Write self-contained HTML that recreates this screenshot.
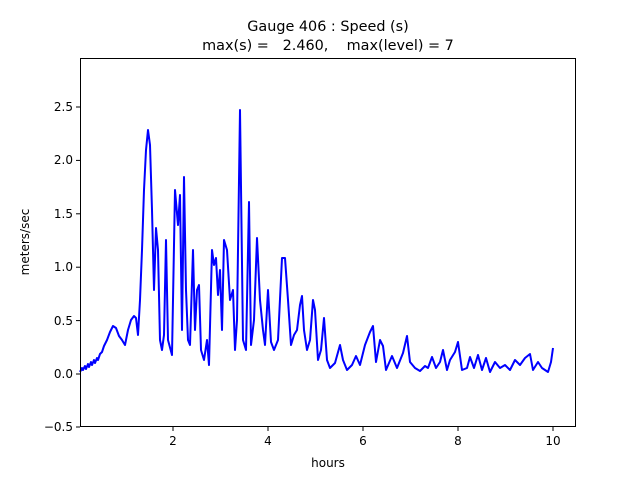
<!DOCTYPE html>
<html><head><meta charset="utf-8"><style>
body{margin:0;background:#fff}
svg text{font-family:"DejaVu Sans","Liberation Sans",sans-serif;font-size:12px;fill:#000}
</style></head><body>
<svg width="640" height="480" viewBox="0 0 640 480" xmlns="http://www.w3.org/2000/svg">
<rect width="640" height="480" fill="#fff"/>
<text x="328" y="31" text-anchor="middle" style="font-size:14.4px">Gauge 406 : Speed (s)</text>
<text x="328" y="50" text-anchor="middle" style="font-size:14.4px" xml:space="preserve">max(s) =   2.460,    max(level) = 7</text>
<polyline fill="none" stroke="#0000ff" stroke-width="2" stroke-linejoin="round" points="
80,372 82,368 83,370 85,366 86,369 88,364 89,367 91,362 92,365 94,360 95,363 97,358 98,360 100,354 102,352 104,346 107,340 110,332 113,326 116,328 119,336 122,340 125,345 128,330 131,320 134,316 136,318 138,335 140,300 142,250 144,190 146,150 148,130 150,145 152,210 154,290 156,228 158,250 160,340 162,350 164,335 166,240 168,340 172,355 175,190 178,225 180,195 182,330 184,177 186,290 188,340 190,345 193,250 195,330 197,290 199,285 201,350 204,360 207,340 209,365 212,250 214,265 216,258 218,295 220,270 222,330 224,240 227,250 230,300 233,290 235,350 237,320 240,110 243,340 246,350 249,202 251,345 254,320 257,238 260,300 263,330 265,345 268,290 271,342 274,350 278,340 282,258 285,258 288,300 291,345 294,335 297,330 300,305 302,296 304,330 307,350 310,340 313,300 315,310 318,360 321,350 324,318 327,360 330,368 335,363 340,345 343,360 347,370 352,365 356,356 360,365 365,345 370,332 373,326 376,362 380,340 383,346 386,370 392,356 397,368 403,353 407,336 410,362 415,368 420,371 425,366 428,368 432,357 436,368 440,362 443,350 447,370 450,360 455,352 458,342 462,370 467,368 470,357 474,368 478,355 482,370 486,358 490,372 495,362 500,368 505,365 510,370 515,360 520,365 525,358 530,354 533,370 538,362 542,368 548,372 551,362 553,348"/>
<rect x="80.5" y="58.5" width="495" height="368" fill="none" stroke="#000" stroke-width="1"/>
<g stroke="#000">
<line x1="173" y1="427" x2="173" y2="431"/><line x1="268" y1="427" x2="268" y2="431"/><line x1="363" y1="427" x2="363" y2="431"/><line x1="458" y1="427" x2="458" y2="431"/><line x1="553" y1="427" x2="553" y2="431"/>
<line x1="76" y1="427" x2="80" y2="427"/><line x1="76" y1="374" x2="80" y2="374"/><line x1="76" y1="320.6" x2="80" y2="320.6"/><line x1="76" y1="267.2" x2="80" y2="267.2"/><line x1="76" y1="213.8" x2="80" y2="213.8"/><line x1="76" y1="160.4" x2="80" y2="160.4"/><line x1="76" y1="107" x2="80" y2="107"/>
</g>
<g text-anchor="middle">
<text x="173" y="445">2</text><text x="268" y="445">4</text><text x="363" y="445">6</text><text x="458" y="445">8</text><text x="553" y="445">10</text>
<text x="328" y="467">hours</text>
</g>
<g text-anchor="end">
<text x="73" y="431">−0.5</text><text x="73" y="378">0.0</text><text x="73" y="325">0.5</text><text x="73" y="271">1.0</text><text x="73" y="218">1.5</text><text x="73" y="164">2.0</text><text x="73" y="111">2.5</text>
</g>
<text x="29" y="242" text-anchor="middle" transform="rotate(-90 29 242)">meters/sec</text>
</svg>
</body></html>
